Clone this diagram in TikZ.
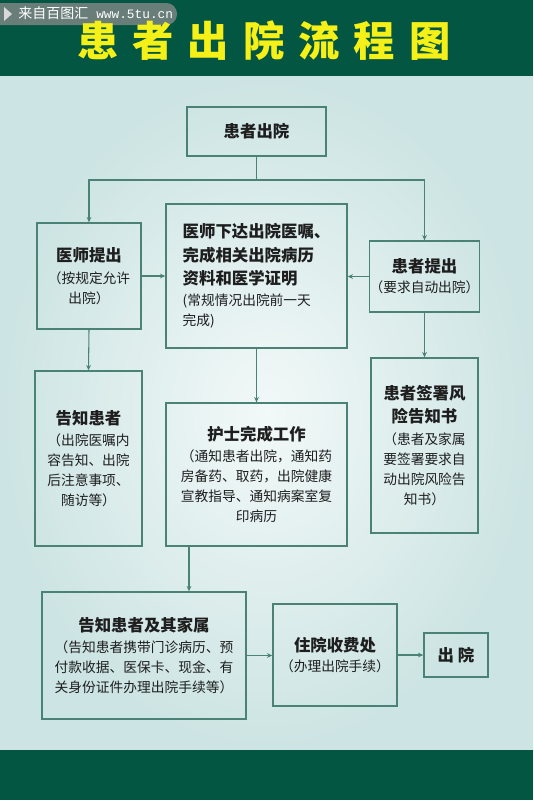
\documentclass[tikz,border=0pt]{standalone}
\usepackage{fontspec}
\setmainfont{Noto Sans CJK SC}
\newfontfamily\titlefont{Noto Sans CJK SC Black}
\newfontfamily\wmmono{Liberation Mono}
\usetikzlibrary{arrows.meta,calc}
\definecolor{hdr}{RGB}{2,86,66}
\definecolor{ttl}{RGB}{244,240,24}
\definecolor{edgec}{RGB}{74,130,118}
\definecolor{bgin}{RGB}{242,249,248}
\definecolor{bgout}{RGB}{204,228,227}
\definecolor{txt}{RGB}{30,30,30}
\newcommand\hd[1]{{\bfseries\fontsize{12.3}{15}\selectfont #1}}
\tikzset{
  box/.style={draw=edgec, line width=1pt, align=center, inner sep=0pt, text=txt,
    font=\fontsize{10.3}{15}\selectfont},
  conn/.style={draw=edgec, line width=0.8pt},
  arr/.style={conn, -{Stealth[length=4pt,width=3.5pt]}}
}
\begin{document}
\begin{tikzpicture}[x=0.75pt,y=-0.75pt]
\useasboundingbox (0,0) rectangle (533,800);
% background
\shade[inner color=bgin, outer color=bgout] (0,76) rectangle (533,750);
\fill[hdr] (0,0) rectangle (533,76);
\fill[hdr] (0,750) rectangle (533,800);
% watermark
\fill[black!45, opacity=0.75, rounded corners=8pt] (-10,3) rectangle (177,25);
\fill[white!85!black] (4,7) -- (12,14) -- (4,21) -- cycle;
\node[anchor=west, text=white, inner sep=0pt, font=\fontsize{10.5}{11}\selectfont] (wm) at (18,13.5)
  {来自百图汇\hspace{6pt}{\wmmono\fontsize{9.6}{11}\selectfont www.5tu.cn}};
% title
\node[text=ttl, inner sep=0pt, font=\titlefont\fontsize{31}{34}\selectfont] (title) at (264,41)
  {患\hspace{10.5pt}者\hspace{10.5pt}出\hspace{10.5pt}院\hspace{10.5pt}流\hspace{10.5pt}程\hspace{10.5pt}图};
% boxes
\node[box, minimum width=104.25pt, minimum height=36.75pt] (top) at (256.5,131.5) {\hd{患者出院}};
\node[box, minimum width=78pt, minimum height=79.5pt] (doc) at (89,276)
  {\hd{医师提出}\\[1pt]（按规定允许\\出院）};
\node[box, align=left, minimum width=135.75pt, minimum height=108pt] (mid) at (256.5,276)
  {\hd{医师下达出院医嘱、}\\[2.5pt]\hd{完成相关出院病历}\\[2.5pt]\hd{资料和医学证明}\\[1pt](常规情况出院前一天\\完成)};
\node[box, minimum width=78.75pt, minimum height=53.25pt] (pat) at (424.5,276.5)
  {\hd{患者提出}\\[0pt]（要求自动出院）};
\node[box, minimum width=80.25pt, minimum height=131.25pt] (tell) at (88.5,458.5)
  {\hd{告知患者}\\[1pt]（出院医嘱内\\容告知、出院\\后注意事项、\\随访等）};
\node[box, minimum width=135.75pt, minimum height=107.25pt] (nurse) at (256.5,474.5)
  {\hd{护士完成工作}\\[1pt]（通知患者出院，通知药\\房备药、取药，出院健康\\宣教指导、通知病案室复\\印病历};
\node[box, minimum width=80.25pt, minimum height=131.25pt] (sign) at (424.5,445.5)
  {\hd{患者签署风}\\[2.5pt]\hd{险告知书}\\[1pt]（患者及家属\\要签署要求自\\动出院风险告\\知书）};
\node[box, minimum width=153pt, minimum height=95.25pt] (fam) at (144,655.5)
  {\hd{告知患者及其家属}\\[1pt]（告知患者携带门诊病历、预\\付款收据、医保卡、现金、有\\关身份证件办理出院手续等）};
\node[box, minimum width=93pt, minimum height=76.5pt] (fee) at (335,655)
  {\hd{住院收费处}\\[0pt]（办理出院手续）};
\node[box, minimum width=48pt, minimum height=33pt] (exit) at (456,655)
  {\hd{出\hspace{3pt}院}};
% connectors
\coordinate (j) at (256.5,180);
\draw[conn] (top.south) -- (j);
\draw[arr] (j) -| (doc.north);
\draw[arr] (j) -| (pat.north);
\draw[arr] (doc.east) -- (mid.west);
\draw[arr] (pat.west) -- (pat.west -| mid.east);
\draw[arr] (doc.south) -- (tell.north);
\draw[arr] (mid.south) -- (nurse.north);
\draw[arr] (pat.south) -- (sign.north);
\coordinate (k) at (189,546);
\draw[arr] (k) -- (k |- fam.north);
\draw[arr] (fam.east) -- (fam.east -| fee.west);
\draw[arr] (fee.east) -- (fee.east -| exit.west);
\end{tikzpicture}
\end{document}
